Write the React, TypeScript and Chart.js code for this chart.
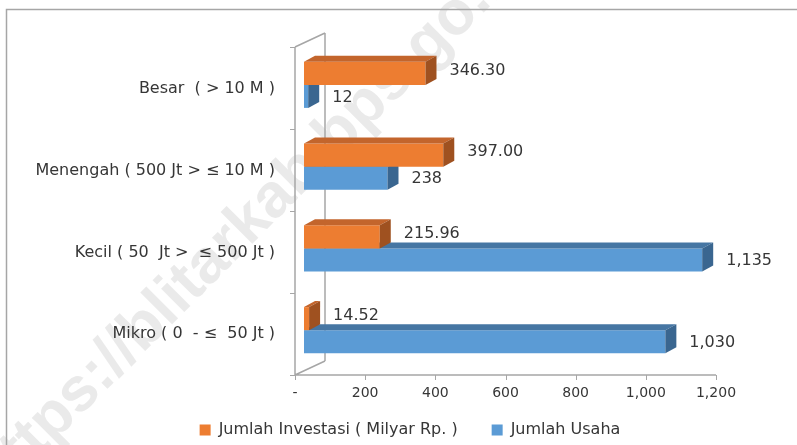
import React, { useEffect, useRef } from "react";
import { Chart, registerables } from "chart.js";

Chart.register(...registerables);

const categories = [
  "Besar  ( > 10 M )",
  "Menengah ( 500 Jt > ≤ 10 M )",
  "Kecil ( 50  Jt >  ≤ 500 Jt )",
  "Mikro ( 0  - ≤  50 Jt )",
];
const seriesNames = ["Jumlah Investasi ( Milyar Rp. )", "Jumlah Usaha"];
const investasi = [346.3, 397.0, 215.96, 14.52];
const usaha = [12, 238, 1135, 1030];
const xTicks = [0, 200, 400, 600, 800, 1000, 1200];
const watermarkText = "https://blitarkab.bps.go.id";

const FONT = "'DejaVu Sans', 'Noto Sans', sans-serif";
const TEXT = "#363636";
const FRAME = "#A6A6A6";
const DEPTH_X = 11;
const DEPTH_Y = -6;
const WALL_DX = 30;
const WALL_DY = -14;
const FRONT_SHIFT_X = -9;
const FRONT_SHIFT_Y = 4;
const LEGEND_CENTER_X = 410;
const LEGEND_TEXT_Y = 430;
const LEGEND_PAD = 34;
const LEGEND_FONT = 16;

const faceColors = [
  { front: "#ED7D31", top: "#C3652C", side: "#9F5120" },
  { front: "#5B9BD5", top: "#4676A3", side: "#3A6690" },
];

const fmtTick = (v: number) => (v === 0 ? "-" : v.toLocaleString("en-US"));
const fmtValue = (v: number, ds: number) =>
  ds === 0 ? v.toFixed(2) : v.toLocaleString("en-US");

const backgroundPlugin = {
  id: "bgFrame",
  afterLayout(chart: any) {
    const lg = chart.legend;
    if (lg) {
      const shift = LEGEND_CENTER_X - (lg.left + lg.right) / 2;
      lg.left += shift;
      lg.right += shift;
      const h = lg.bottom - lg.top;
      lg.top = LEGEND_TEXT_Y - LEGEND_PAD - LEGEND_FONT / 2;
      lg.bottom = lg.top + h;
    }
  },
  beforeDraw(chart: any) {
    const ctx = chart.ctx;
    ctx.save();
    ctx.fillStyle = "#FFFFFF";
    ctx.fillRect(0, 0, chart.width, chart.height);
    // watermark
    ctx.translate(-16, 488);
    ctx.rotate(-Math.PI / 4);
    ctx.font = "bold 62px 'Liberation Sans', Arial, sans-serif";
    ctx.fillStyle = "rgba(200,200,200,0.38)";
    ctx.textAlign = "left";
    ctx.textBaseline = "middle";
    ctx.fillText(watermarkText, 0, 0);
    ctx.restore();
    // outer border (top and left visible)
    ctx.save();
    ctx.strokeStyle = FRAME;
    ctx.lineWidth = 1.5;
    ctx.beginPath();
    ctx.moveTo(6.5, chart.height);
    ctx.lineTo(6.5, 9.5);
    ctx.lineTo(chart.width, 9.5);
    ctx.stroke();
    ctx.restore();
  },
  beforeDatasetsDraw(chart: any) {
    const ctx = chart.ctx;
    const { top, bottom } = chart.chartArea;
    const xs = chart.scales.x;
    const fx = xs.getPixelForValue(0) + FRONT_SHIFT_X;
    const fxEnd = xs.getPixelForValue(xTicks[xTicks.length - 1]) + FRONT_SHIFT_X;
    const fb = bottom + FRONT_SHIFT_Y;
    const ft = top + 3;
    ctx.save();
    ctx.strokeStyle = FRAME;
    ctx.lineWidth = 1.5;
    ctx.beginPath();
    ctx.moveTo(fx, ft);
    ctx.lineTo(fx, fb);
    ctx.moveTo(fx + WALL_DX, ft + WALL_DY);
    ctx.lineTo(fx + WALL_DX, fb + WALL_DY);
    ctx.moveTo(fx, ft);
    ctx.lineTo(fx + WALL_DX, ft + WALL_DY);
    ctx.moveTo(fx, fb);
    ctx.lineTo(fx + WALL_DX, fb + WALL_DY);
    ctx.moveTo(fx, fb);
    ctx.lineTo(fxEnd, fb);
    ctx.stroke();
    ctx.lineWidth = 1;
    ctx.beginPath();
    xTicks.forEach((v) => {
      const px = Math.round(xs.getPixelForValue(v) + FRONT_SHIFT_X) + 0.5;
      ctx.moveTo(px, fb);
      ctx.lineTo(px, fb + 5);
    });
    const n = categories.length;
    for (let i = 0; i <= n; i++) {
      const py = Math.round(ft + (i * (fb - ft)) / n) + 0.5;
      ctx.moveTo(fx - 5, py);
      ctx.lineTo(fx, py);
    }
    ctx.stroke();
    ctx.restore();
  },
  afterDatasetDraw(chart: any, args: any) {
    const ctx = chart.ctx;
    const c = faceColors[args.index];
    ctx.save();
    args.meta.data.forEach((bar: any) => {
      const { x, y, base, height } = bar.getProps(["x", "y", "base", "height"], true);
      const t = y - height / 2;
      const b = y + height / 2;
      ctx.fillStyle = c.top;
      ctx.beginPath();
      ctx.moveTo(base, t);
      ctx.lineTo(base + DEPTH_X, t + DEPTH_Y);
      ctx.lineTo(x + DEPTH_X, t + DEPTH_Y);
      ctx.lineTo(x, t);
      ctx.closePath();
      ctx.fill();
      ctx.fillStyle = c.side;
      ctx.beginPath();
      ctx.moveTo(x, t);
      ctx.lineTo(x + DEPTH_X, t + DEPTH_Y);
      ctx.lineTo(x + DEPTH_X, b + DEPTH_Y);
      ctx.lineTo(x, b);
      ctx.closePath();
      ctx.fill();
    });
    ctx.restore();
  },
  afterDatasetsDraw(chart: any) {
    const ctx = chart.ctx;
    ctx.save();
    ctx.font = `16px ${FONT}`;
    ctx.fillStyle = TEXT;
    ctx.textAlign = "left";
    ctx.textBaseline = "middle";
    chart.data.datasets.forEach((ds: any, di: number) => {
      const meta = chart.getDatasetMeta(di);
      meta.data.forEach((bar: any, i: number) => {
        const { x, y } = bar.getProps(["x", "y"], true);
        ctx.fillText(fmtValue(ds.data[i], di), x + 24, y + (di === 0 ? -3 : 1));
      });
    });
    ctx.restore();
  },
};

export default function App() {
  const ref = useRef<HTMLCanvasElement | null>(null);
  useEffect(() => {
    if (!ref.current) return;
    const chart = new Chart(ref.current, {
      type: "bar",
      data: {
        labels: categories,
        datasets: [
          {
            label: seriesNames[0],
            data: investasi,
            backgroundColor: faceColors[0].front,
            borderWidth: 0,
            categoryPercentage: 0.563,
            barPercentage: 1,
          },
          {
            label: seriesNames[1],
            data: usaha,
            backgroundColor: faceColors[1].front,
            borderWidth: 0,
            categoryPercentage: 0.563,
            barPercentage: 1,
          },
        ],
      },
      options: {
        indexAxis: "y",
        responsive: false,
        animation: false,
        devicePixelRatio: 1,
        layout: { padding: { top: 44, right: 72, left: 0, bottom: -18 } },
        scales: {
          x: {
            min: 0,
            max: 1200,
            grid: { display: false, drawTicks: false },
            border: { display: false },
            afterBuildTicks: (scale: any) => {
              scale.ticks = xTicks.map((v) => ({ value: v }));
            },
            afterFit: (scale: any) => {
              scale.height = 32;
            },
            ticks: {
              callback: (v: any) => fmtTick(Number(v)),
              labelOffset: FRONT_SHIFT_X,
              padding: 14,
              color: TEXT,
              font: { family: FONT, size: 14 },
              maxRotation: 0,
              autoSkip: false,
            },
          },
          y: {
            grid: { display: false, drawTicks: false },
            border: { display: false },
            afterFit: (scale: any) => {
              scale.width = 304;
            },
            ticks: {
              labelOffset: 4,
              padding: 29,
              color: TEXT,
              font: { family: FONT, size: 16 },
              autoSkip: false,
            },
          },
        },
        plugins: {
          legend: {
            position: "bottom",
            labels: {
              boxWidth: 11,
              boxHeight: 11,
              padding: LEGEND_PAD,
              color: TEXT,
              font: { family: FONT, size: LEGEND_FONT },
            },
          },
          tooltip: { enabled: false },
        },
      },
      plugins: [backgroundPlugin],
    } as any);
    return () => chart.destroy();
  }, []);
  return (
    <div style={{ position: "fixed", left: 0, top: 0, width: 797, height: 445 }}>
      <canvas ref={ref} width={797} height={445} style={{ display: "block", width: 797, height: 445 }} />
    </div>
  );
}
